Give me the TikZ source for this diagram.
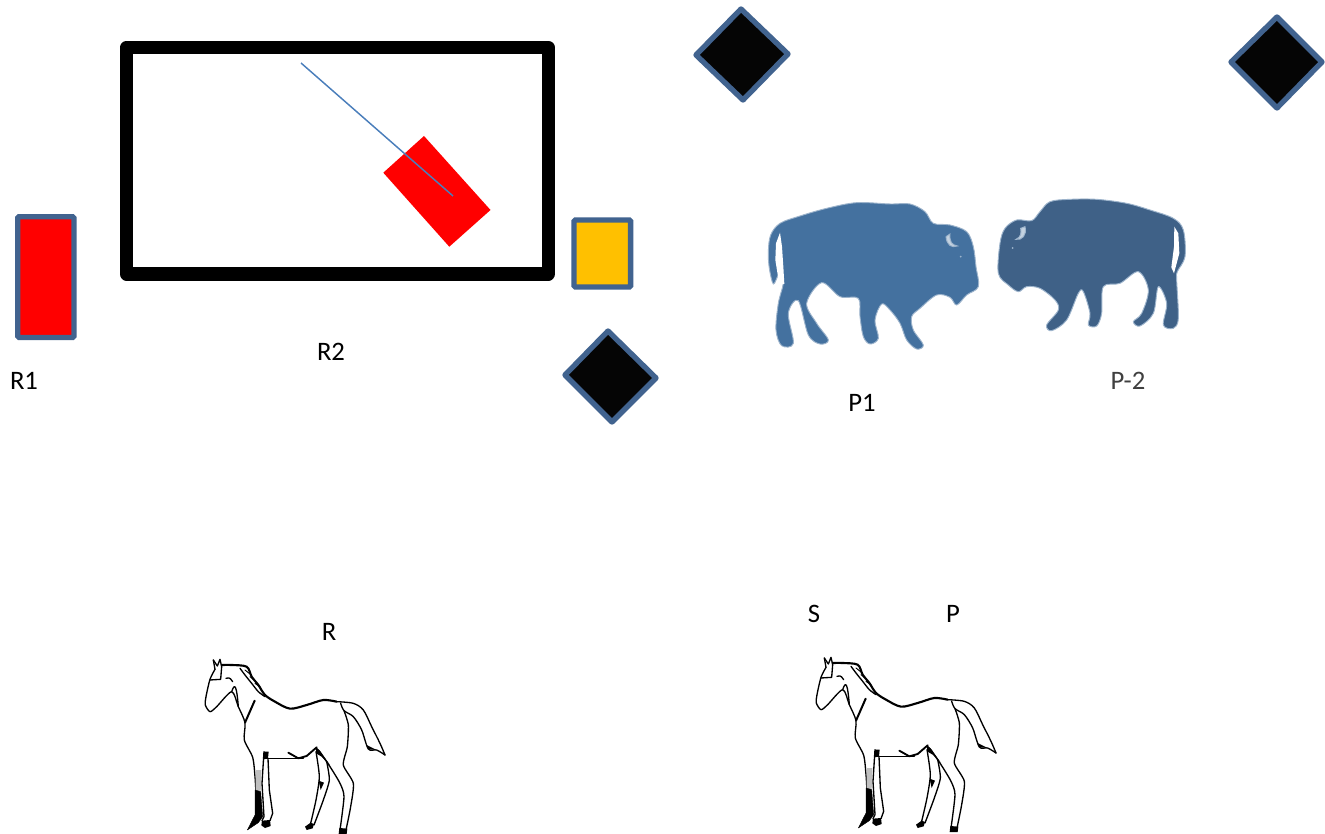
\documentclass[tikz,border=0pt]{standalone}
\usepackage{fontspec}
\setmainfont{Carlito}
\definecolor{edgeblue}{HTML}{41638F}
\definecolor{linkblue}{HTML}{4A7EBB}
\definecolor{amber}{HTML}{FFC000}
\definecolor{bisonA}{HTML}{44719F}
\definecolor{bisonB}{HTML}{3F6187}
\definecolor{bisonedge}{HTML}{9DB4CC}
\tikzset{
  x=0.75pt,y=-0.75pt,
  label text/.style={font=\fontsize{20}{24}\selectfont,text=black,inner sep=0pt,anchor=center},
  framed/.style={draw=edgeblue,line width=4pt,rounded corners=1pt},
  gem/.style={draw=edgeblue,fill=black!98,line width=4pt,line join=round},
  bison/.style={line width=0.7pt,draw=bisonedge},
  ink/.style={draw=black,line width=1pt,line cap=round,line join=round},
  inkfill/.style={fill=black,draw=black,line width=0.3pt,line join=round},
  horse/.pic={
    \begin{scope}[scale=1/3]
    % face, chest and front leg
    \draw[ink] plot[smooth,tension=.45] coordinates {(75,58)(60,88)(48,140)(46,165)(60,185)(80,170)(125,125)(145,170)(165,218)(163,270)(188,322)(195,380)(198,430)};
    \draw[ink,line width=1.5pt] (194,152)--(165,218);
    \draw[ink] (70,30)--(82,48)--(90,28)--(95,50)--(92,88)--(60,90);
    \draw[ink] (70,30)--(75,58);
    \draw[ink] (108,85) .. controls (120,80) and (125,90) .. (128,95);
    \draw[ink] (125,125) .. controls (135,95) and (140,110) .. (145,170);
    % mane and back
    \draw[ink,line width=1.6pt] plot[smooth,tension=.5] coordinates {(95,45)(125,45)(170,50)(185,80)(205,105)(225,135)(255,155)(300,176)(350,165)(400,150)(440,155)};
    \draw[ink] plot[smooth,tension=.5] coordinates {(150,55)(165,75)(185,100)(205,125)(225,140)};
    \draw[ink,line width=.7pt] (165,60)--(180,72) (180,80)--(195,92) (195,100)--(212,112);
    % tail
    \draw[ink] plot[smooth,tension=.5] coordinates {(440,155)(490,160)(520,180)(545,230)(570,280)(585,315)};
    \draw[ink] plot[smooth,tension=.5] coordinates {(585,315)(560,300)(535,297)(515,240)(490,200)(462,182)(452,160)};
    \fill[black] (530,285)--(560,300)--(535,298)--cycle;
    % hind quarter and leg
    \draw[ink] plot[smooth,tension=.4] coordinates {(462,182)(475,225)(472,290)(460,345)(490,400)(482,470)(468,540)};
    \draw[ink] plot[smooth,tension=.4] coordinates {(385,300)(420,350)(450,400)(462,440)(450,540)};
    \fill[black] (448,534)--(472,536)--(470,552)--(446,552)--cycle;
    % belly
    \draw[ink] (228,325)--(340,325);
    \draw[ink,line width=1.4pt] (295,308)--(325,325)--(350,318)--(380,292);
    \fill[black] (378,290)--(392,305)--(420,345)--(395,320)--(378,310)--cycle;
    % far hind leg
    \draw[ink] plot[smooth,tension=.4] coordinates {(378,305)(388,380)(378,450)(362,520)};
    \draw[ink] plot[smooth,tension=.4] coordinates {(410,335)(418,390)(400,450)(372,525)};
    \fill[black] (386,392)--(402,398)--(392,420)--cycle;
    \fill[black] (345,530)--(362,518)--(372,522)--(368,535)--(350,540)--cycle;
    % far fore leg and chest dark patch
    \fill[black] (222,305)--(236,305)--(234,325)--(222,328)--cycle;
    \draw[ink] (222,305)--(216,400)--(222,500)--(216,512);
    \draw[ink] (234,325)--(238,420)--(248,490)--(240,512);
    \fill[black!25] (197,360)--(214,360)--(212,425)--(197,425)--cycle;
    \fill[inkfill] (195,420)--(212,425)--(218,500)--(205,518)--(172,540)--(195,495)--cycle;
    \fill[black] (216,512)--(240,510)--(242,528)--(225,534)--(214,526)--cycle;
    \end{scope}
  }
}
\begin{document}
\begin{tikzpicture}
\useasboundingbox (0,0) rectangle (1325,834);
\fill[white] (0,0) rectangle (1325,834);

% R1 and the amber block
\draw[framed,fill=red] (17.7,216.7) rectangle (74,337.5);
\draw[framed,fill=amber] (574,220) rectangle (630.6,287);

% heavy frame
\draw[draw=black,line width=9.8pt,line join=round] (126.5,47.5) rectangle (548.3,274);

% tilted red block and its line
\fill[red] (424,136)--(490.5,210)--(449.3,246.7)--(383.3,172.7)--cycle;
\coordinate (linkA) at (301,63);
\coordinate (linkB) at (453,196);
\draw[linkblue,line width=1.1pt] (linkA)--(linkB);

% diamonds
\draw[gem] (741,9)--(788,54)--(743,100)--(696,55)--cycle;
\draw[gem] (1277,17)--(1322,62)--(1277,108)--(1231,62)--cycle;
\draw[gem] (608,331)--(656,378)--(612,422)--(565,375)--cycle;

% bison 1
\begin{scope}[shift={(750,180)},scale=1/3]
\draw[bison,fill=bisonA] plot[smooth cycle,tension=.55] coordinates {
 (70,312)(58,265)(55,215)(62,165)(90,130)(150,108)(230,85)(320,68)(420,72)(480,72)(525,95)(550,130)(600,135)(650,155)(670,200)(678,260)(685,320)(650,345)(620,375)(600,352)(560,345)(510,385)(485,410)(490,450)(520,495)(500,507)(470,480)(450,430)(420,390)(395,372)(375,420)(385,475)(360,492)(340,470)(330,410)(325,355)(270,350)(215,308)(170,370)(200,430)(235,480)(210,492)(175,465)(145,362)(115,400)(130,490)(95,497)(78,450)(85,370)(100,310)(90,295)(85,285)};
\fill[white] (90,158)--(78,190)--(76,240)--(84,290)--(92,312)--(103,312)--(100,260)--(96,200)--cycle;
\draw[bison,fill=bisonedge!60!white] (588,170) .. controls (590,195) and (605,205) .. (622,198) .. controls (605,195) and (598,185) .. (600,162) -- cycle;
\fill[bisonedge] (632,230) circle (3);
\end{scope}

% bison 2
\begin{scope}[shift={(750,180)},scale=1/3]
\draw[bison,fill=bisonB] plot[smooth cycle,tension=.55] coordinates {
 (1282,275)(1305,230)(1300,150)(1270,115)(1200,90)(1130,70)(1040,58)(960,58)(900,65)(870,95)(845,122)(800,120)(765,145)(750,190)(745,280)(775,315)(805,335)(830,320)(870,325)(915,360)(925,390)(890,435)(905,452)(950,420)(985,340)(1000,335)(1020,400)(1015,435)(1040,438)(1055,400)(1060,320)(1110,310)(1165,275)(1195,330)(1175,400)(1150,425)(1170,438)(1210,400)(1225,320)(1250,370)(1240,435)(1270,445)(1285,415)(1280,300)};
\fill[white] (1273,140)--(1285,160)--(1288,220)--(1272,280)--(1264,262)--(1272,200)--cycle;
\draw[bison,fill=bisonedge!60!white] (825,140) .. controls (832,165) and (815,182) .. (798,178) .. controls (812,172) and (815,160) .. (812,145) -- cycle;
\fill[bisonedge] (788,204) circle (3);
\end{scope}

% horses
\pic at (190,650) {horse};
\pic at (801,648) {horse};

% labels
\node[label text] (r1) at (24,381) {R1};
\node[label text] (r2) at (331,352) {R2};
\node[label text] (p1) at (862,403) {P1};
\node[label text,text=black!75] (p2) at (1128,381) {P-2};
\node[label text] (r) at (329,632) {R};
\node[label text] (s) at (814,614) {S};
\node[label text] (p) at (953,614) {P};
\end{tikzpicture}
\end{document}
